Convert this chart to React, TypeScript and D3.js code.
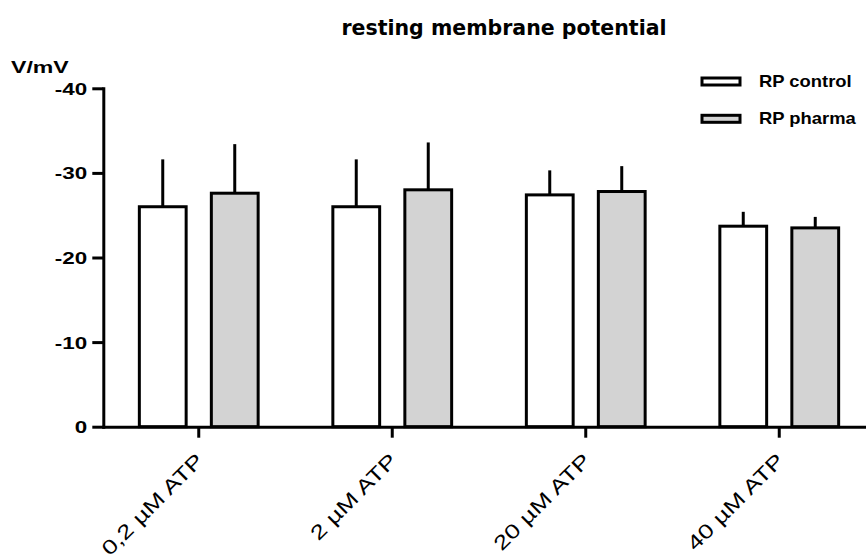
import React, { useEffect, useRef } from 'react';
import * as d3 from 'd3';

// chart values
const categories = ['0,2 µM ATP', '2 µM ATP', '20 µM ATP', '40 µM ATP'];
const seriesNames = ['RP control', 'RP pharma'];
const controlMeans = [-26.0, -26.0, -27.4, -23.7];
const pharmaMeans = [-27.6, -28.0, -27.8, -23.5];
const controlErrors = [5.6, 5.6, 2.9, 1.7];
const pharmaErrors = [5.8, 5.6, 3.0, 1.3];
const yTicks = [0, -10, -20, -30, -40];
const yDomain = [0, -40];

const seriesColors = ['#ffffff', '#d3d3d3'];

const WIDTH = 866;
const HEIGHT = 557;
const BOLD = '"Liberation Sans", Arial, sans-serif';

const App: React.FC = () => {
  const svgRef = useRef<SVGSVGElement>(null);

  useEffect(() => {
    if (!svgRef.current) return;
    const svg = d3.select(svgRef.current);
    svg.selectAll('*').remove();

    const rows = categories.map((cat, i) => ({
      cat,
      vals: [
        { key: seriesNames[0], mean: controlMeans[i], err: controlErrors[i] },
        { key: seriesNames[1], mean: pharmaMeans[i], err: pharmaErrors[i] },
      ],
    }));

    const x0 = d3.scaleBand().domain(categories).range([102, 876]);
    const x1 = d3.scaleBand()
      .domain(seriesNames)
      .range([-72, 72])
      .paddingInner(0.35)
      .paddingOuter(0.175);
    const y = d3.scaleLinear().domain(yDomain).range([426.7, 88.3]);
    const color = d3.scaleOrdinal<string, string>().domain(seriesNames).range(seriesColors);

    // Title
    svg.append('text')
      .attr('x', 504)
      .attr('y', 35)
      .attr('text-anchor', 'middle')
      .style('font-family', '"DejaVu Sans", Verdana, sans-serif')
      .style('font-weight', 'bold')
      .style('font-size', '20.5px')
      .text('resting membrane potential');

    // Y unit label
    svg.append('text')
      .attr('transform', 'translate(11,73) scale(1.4,1)')
      .style('font-family', BOLD)
      .style('font-weight', 'bold')
      .style('font-size', '16.5px')
      .text('V/mV');

    // Bars
    const groups = svg.selectAll('.grp')
      .data(rows)
      .enter()
      .append('g')
      .attr('class', 'grp')
      .attr('transform', d => `translate(${x0(d.cat)! + x0.bandwidth() / 2},0)`);

    groups.selectAll('line.err')
      .data(d => d.vals)
      .enter()
      .append('line')
      .attr('class', 'err')
      .attr('x1', d => x1(d.key)! + x1.bandwidth() / 2)
      .attr('x2', d => x1(d.key)! + x1.bandwidth() / 2)
      .attr('y1', d => y(d.mean))
      .attr('y2', d => y(d.mean - d.err))
      .attr('stroke', '#000')
      .attr('stroke-width', 3);

    groups.selectAll('rect')
      .data(d => d.vals)
      .enter()
      .append('rect')
      .attr('x', d => x1(d.key)!)
      .attr('y', d => y(d.mean))
      .attr('width', x1.bandwidth())
      .attr('height', d => y(0) - y(d.mean))
      .attr('fill', d => color(d.key))
      .attr('stroke', '#000')
      .attr('stroke-width', 3);

    // Y axis
    const yAxis = svg.append('g')
      .attr('transform', 'translate(103.3,0)')
      .call(d3.axisLeft(y).tickValues(yTicks).tickFormat(d => String(d)).tickSize(11).tickSizeOuter(0));
    yAxis.select('.domain').attr('stroke-width', 3).attr('stroke-linecap', 'square');
    yAxis.selectAll('.tick line').attr('stroke-width', 3);
    yAxis.selectAll('.tick text')
      .attr('x', 0)
      .attr('dy', null)
      .attr('transform', 'translate(-16,6) scale(1.36,1)')
      .attr('text-anchor', 'end')
      .style('font-family', BOLD)
      .style('font-weight', 'bold')
      .style('font-size', '16.5px')
      .attr('fill', '#000');

    // X axis
    const xAxis = svg.append('g')
      .attr('transform', `translate(0,${y(0)})`)
      .call(d3.axisBottom(x0).tickSize(11).tickSizeOuter(0));
    xAxis.select('.domain').attr('stroke-width', 3);
    xAxis.selectAll('.tick line').attr('stroke-width', 3);
    xAxis.selectAll('.tick text')
      .attr('x', 0)
      .attr('y', 0)
      .attr('dy', null)
      .attr('transform', 'translate(6,35) rotate(-45) scale(1.3,1)')
      .attr('text-anchor', 'end')
      .style('font-family', BOLD)
      .style('font-size', '20px')
      .attr('fill', '#000');

    // Legend
    const legend = svg.append('g').attr('transform', 'translate(702,0)');
    const legendY = [81.5, 118.8];
    seriesNames.forEach((name, i) => {
      legend.append('rect')
        .attr('x', 0)
        .attr('y', legendY[i] - 3.5)
        .attr('width', 38)
        .attr('height', 7)
        .attr('fill', color(name))
        .attr('stroke', '#000')
        .attr('stroke-width', 3);
      legend.append('text')
        .attr('transform', `translate(57,${legendY[i] + 5}) scale(1.15,1)`)
        .style('font-family', BOLD)
        .style('font-weight', 'bold')
        .style('font-size', '16px')
        .text(name);
    });
  }, []);

  return (
    <svg
      ref={svgRef}
      width={WIDTH}
      height={HEIGHT}
      style={{ position: 'absolute', left: 0, top: 0, background: '#fff' }}
    />
  );
};

export default App;
